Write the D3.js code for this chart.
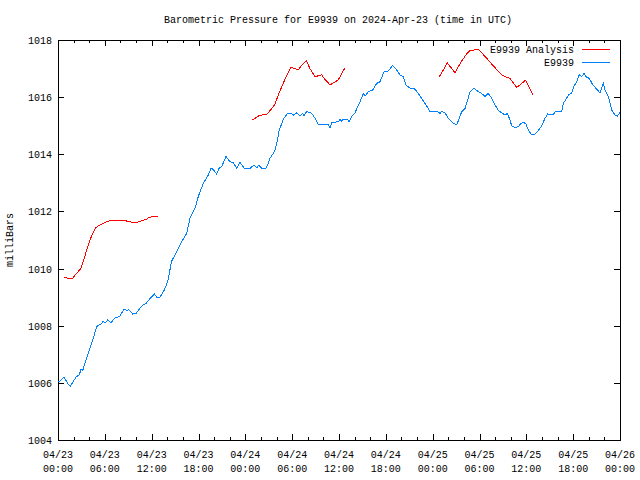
<!DOCTYPE html>
<html>
<head>
<meta charset="utf-8">
<script src="https://cdn.jsdelivr.net/npm/d3@7"></script>
<style>
  body { margin: 0; background: #fff; }
  text { font-family: "Liberation Mono", "DejaVu Sans Mono", monospace; font-size: 10px; fill: #000; }
</style>
</head>
<body>
<svg id="chart" width="640" height="480"></svg>
<script>
// hours since 2024-04-23 00:00 UTC, pressure in mb
const obsHours = [0.09,0.77,1.24,1.58,2.31,2.73,2.95,3.16,3.59,4.01,4.45,4.96,5.51,5.80,6.06,6.37,6.79,7.34,7.85,8.49,8.80,9.06,9.57,9.99,10.76,11.27,11.91,12.34,12.68,13.07,13.62,14.09,14.54,15.21,15.85,16.49,16.91,17.55,17.97,18.61,19.26,19.60,19.90,20.33,20.63,20.97,21.52,22.04,22.46,22.89,23.32,23.87,24.60,25.11,25.46,25.75,26.10,26.65,26.94,27.16,27.58,27.80,28.02,28.35,28.86,29.38,29.94,30.15,30.58,31.00,31.35,31.52,31.86,32.50,32.93,33.35,33.99,34.63,34.85,35.06,35.91,36.13,36.34,36.55,37.06,37.32,37.63,38.05,38.27,38.69,39.11,39.33,39.75,40.32,40.83,41.25,41.76,42.32,42.88,43.39,43.90,44.24,44.58,45.10,45.61,46.16,46.72,47.24,47.66,48.08,48.52,48.94,49.16,49.58,50.00,50.44,50.64,51.08,51.41,51.72,52.14,52.49,52.78,53.29,53.84,54.28,54.70,55.13,55.56,55.99,56.41,56.85,57.27,57.56,57.91,58.13,58.55,58.97,59.19,59.61,59.96,60.25,60.60,61.11,61.41,61.75,62.04,62.39,62.74,62.94,63.45,63.67,64.09,64.53,64.73,65.08,65.38,65.81,66.14,66.45,66.78,67.09,67.38,67.73,68.07,68.50,68.92,69.44,69.86,70.08,70.50,70.94,71.36,71.66,72.00];
const obsValues = [1006.03,1006.2,1005.98,1005.89,1006.2,1006.28,1006.48,1006.43,1006.8,1007.15,1007.5,1007.97,1008.06,1008.16,1008.1,1008.2,1008.1,1008.29,1008.31,1008.58,1008.53,1008.57,1008.41,1008.43,1008.7,1008.78,1008.99,1009.11,1008.99,1009.0,1009.25,1009.58,1010.25,1010.59,1010.94,1011.23,1011.76,1012.11,1012.52,1012.98,1013.28,1013.51,1013.47,1013.31,1013.51,1013.57,1013.92,1013.74,1013.71,1013.51,1013.71,1013.51,1013.51,1013.62,1013.53,1013.62,1013.51,1013.51,1013.68,1013.86,1014.03,1014.15,1014.38,1014.85,1015.22,1015.43,1015.43,1015.37,1015.45,1015.34,1015.43,1015.34,1015.5,1015.43,1015.26,1015.03,1015.03,1015.03,1014.91,1015.11,1015.14,1015.22,1015.16,1015.23,1015.23,1015.14,1015.34,1015.43,1015.6,1015.84,1016.13,1016.04,1016.19,1016.25,1016.48,1016.54,1016.89,1016.92,1017.11,1016.95,1016.75,1016.72,1016.43,1016.31,1016.31,1016.13,1015.9,1015.69,1015.49,1015.49,1015.51,1015.43,1015.51,1015.45,1015.26,1015.14,1015.09,1015.03,1015.26,1015.49,1015.6,1015.9,1016.19,1016.31,1016.19,1016.13,1016.02,1016.13,1015.96,1015.73,1015.53,1015.45,1015.38,1015.43,1015.2,1014.99,1014.94,1014.96,1015.05,1015.12,1015.06,1014.85,1014.71,1014.71,1014.79,1014.91,1015.03,1015.26,1015.41,1015.38,1015.38,1015.49,1015.51,1015.49,1015.78,1015.92,1016.07,1016.15,1016.4,1016.54,1016.78,1016.72,1016.83,1016.69,1016.66,1016.43,1016.31,1016.15,1016.5,1016.25,1016.02,1015.55,1015.38,1015.34,1015.46];

// analysis comes in three separate runs
const anaHours1 = [0.81,1.24,1.88,2.31,2.95,3.37,3.80,4.36,4.87,5.51,6.15,6.79,7.34,8.07,8.49,8.93,9.65,10.21,10.76,11.27,11.70,12.34,12.77];
const anaValues1 = [1009.69,1009.66,1009.66,1009.81,1010.01,1010.36,1010.77,1011.18,1011.44,1011.55,1011.63,1011.69,1011.67,1011.67,1011.69,1011.65,1011.61,1011.63,1011.67,1011.72,1011.79,1011.84,1011.84];
const anaHours2 = [24.89,25.24,25.79,26.30,26.81,27.38,27.80,28.22,28.66,29.21,29.81,30.36,30.78,31.22,31.81,32.28,32.93,33.35,33.78,34.21,34.85,35.36,35.91,36.34,36.81];
const anaValues2 = [1015.2,1015.26,1015.36,1015.38,1015.41,1015.6,1015.76,1016.07,1016.36,1016.71,1017.04,1017.0,1016.95,1017.12,1017.28,1017.0,1016.71,1016.75,1016.78,1016.62,1016.43,1016.51,1016.6,1016.83,1017.04];
const anaHours3 = [48.85,49.36,49.87,50.44,50.86,51.28,51.85,52.36,52.78,53.29,53.84,54.28,54.92,55.56,56.20,56.85,57.39,57.91,58.33,58.76,59.19,59.92,60.38,60.89];
const anaValues3 = [1016.71,1016.95,1017.2,1017.0,1016.85,1017.06,1017.32,1017.51,1017.63,1017.65,1017.67,1017.55,1017.36,1017.16,1016.97,1016.78,1016.71,1016.66,1016.5,1016.34,1016.43,1016.6,1016.33,1016.07];

const xTickDays = ["04/23","04/23","04/23","04/23","04/24","04/24","04/24","04/24","04/25","04/25","04/25","04/25","04/26"];
const xTickTimes = ["00:00","06:00","12:00","18:00","00:00","06:00","12:00","18:00","00:00","06:00","12:00","18:00","00:00"];
const yTicks = [1004, 1006, 1008, 1010, 1012, 1014, 1016, 1018];

const titleText = "Barometric Pressure for E9939 on 2024-Apr-23 (time in UTC)";
const seriesNames = ["E9939 Analysis", "E9939"];
const seriesColors = ["#ff0000", "#0080ff"];

const plotL = 58, plotR = 620, plotT = 40, plotB = 440;
const svg = d3.select('#chart');

const x = d3.scaleLinear().domain([0, 72]).range([plotL, plotR]);
const y = d3.scaleLinear().domain([1004, 1018]).range([plotB, plotT]);

// title
svg.append('text')
  .attr('x', 338).attr('y', 23)
  .attr('text-anchor', 'middle')
  .text(titleText);

// y label
svg.append('text')
  .attr('transform', 'translate(13,240) rotate(-90)')
  .attr('text-anchor', 'middle')
  .text('milliBars');

const g = svg.append('g').attr('shape-rendering', 'crispEdges');

// ticks (inward, mirrored), major every 6h, minor every 2h
const majorH = d3.range(0, 73, 6);
const minorH = d3.range(0, 73, 2).filter(h => h % 6 !== 0);
const tickLine = (x1, y1, x2, y2) => g.append('line')
  .attr('x1', x1).attr('y1', y1).attr('x2', x2).attr('y2', y2)
  .attr('stroke', '#000').attr('stroke-width', 1);

majorH.forEach(h => {
  const px = Math.round(x(h)) + 0.5;
  tickLine(px, plotB, px, plotB - 6);
  tickLine(px, plotT, px, plotT + 6);
});
minorH.forEach(h => {
  const px = Math.round(x(h)) + 0.5;
  tickLine(px, plotB, px, plotB - 3);
  tickLine(px, plotT, px, plotT + 3);
});
yTicks.forEach(v => {
  const py = Math.round(y(v)) + 0.5;
  tickLine(plotL, py, plotL + 6, py);
  tickLine(plotR, py, plotR - 6, py);
});

// tick labels
majorH.forEach((h, i) => {
  const t = svg.append('text')
    .attr('x', x(h)).attr('text-anchor', 'middle');
  t.append('tspan').attr('x', x(h)).attr('y', 458).text(xTickDays[i]);
  t.append('tspan').attr('x', x(h)).attr('y', 472).text(xTickTimes[i]);
});
yTicks.forEach(v => {
  svg.append('text')
    .attr('x', 52).attr('y', y(v) + 4)
    .attr('text-anchor', 'end')
    .text(v);
});

// frame
g.append('rect')
  .attr('x', plotL + 0.5).attr('y', plotT + 0.5)
  .attr('width', plotR - plotL).attr('height', plotB - plotT)
  .attr('fill', 'none').attr('stroke', '#000');

// series
const line = d3.line().x(d => x(d[0])).y(d => y(d[1]));
const zip = (a, b) => a.map((v, i) => [v, b[i]]);

[zip(anaHours1, anaValues1), zip(anaHours2, anaValues2), zip(anaHours3, anaValues3)].forEach(seg => {
  g.append('path').datum(seg)
    .attr('d', line)
    .attr('fill', 'none')
    .attr('stroke', seriesColors[0])
    .attr('stroke-width', 1);
});
g.append('path').datum(zip(obsHours, obsValues))
  .attr('d', line)
  .attr('fill', 'none')
  .attr('stroke', seriesColors[1])
  .attr('stroke-width', 1);

// legend
seriesNames.forEach((name, i) => {
  const ly = 49 + i * 13;
  svg.append('text')
    .attr('x', 574).attr('y', ly + 4)
    .attr('text-anchor', 'end')
    .text(name);
  g.append('line')
    .attr('x1', 582).attr('x2', 610)
    .attr('y1', ly + 0.5).attr('y2', ly + 0.5)
    .attr('stroke', seriesColors[i]);
});
</script>
</body>
</html>
